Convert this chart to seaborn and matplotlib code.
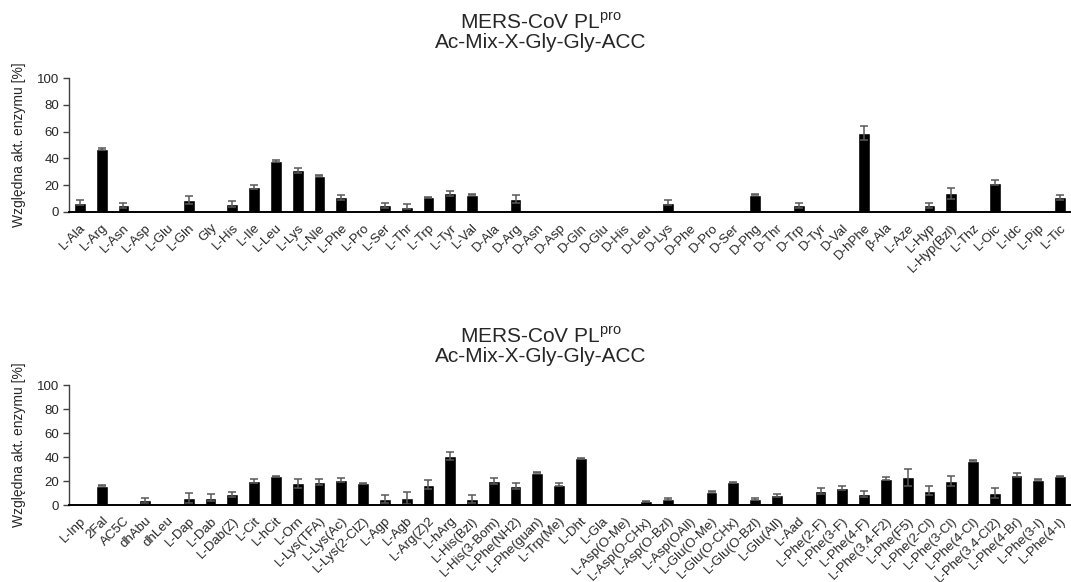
import numpy as np
import pandas as pd
import matplotlib
matplotlib.use("Agg")
import matplotlib.pyplot as plt
import seaborn as sns

# ---- data ----
cats_top = ["L-Ala", "L-Arg", "L-Asn", "L-Asp", "L-Glu", "L-Gln", "Gly", "L-His", "L-Ile",
            "L-Leu", "L-Lys", "L-Nle", "L-Phe", "L-Pro", "L-Ser", "L-Thr", "L-Trp", "L-Tyr",
            "L-Val", "D-Ala", "D-Arg", "D-Asn", "D-Asp", "D-Gln", "D-Glu", "D-His", "D-Leu",
            "D-Lys", "D-Phe", "D-Pro", "D-Ser", "D-Phg", "D-Thr", "D-Trp", "D-Tyr", "D-Val",
            "D-hPhe", "β-Ala", "L-Aze", "L-Hyp", "L-Hyp(Bzl)", "L-Thz", "L-Oic", "L-Idc",
            "L-Pip", "L-Tic"]
vals_top = [7, 47, 5, 0, 0, 9, 0, 6, 19,
            38, 31, 27, 11, 0, 5, 4, 11, 14,
            13, 0, 10, 0, 0, 0, 0, 0, 0,
            7, 0, 0, 0, 13, 0, 5, 0, 0,
            59, 0, 0, 5, 14, 0, 22, 0,
            0, 11]
err_top = [2, 0.7, 2, 0, 0, 3, 0, 2, 1.5,
           0.5, 2, 0.5, 2, 0, 2, 2, 0.5, 2,
           0.5, 0, 3, 0, 0, 0, 0, 0, 0,
           2, 0, 0, 0, 0.5, 0, 2, 0, 0,
           5, 0, 0, 2, 4, 0, 2, 0,
           0, 2]

cats_bot = ["L-Inp", "2Fal", "AC5C", "dhAbu", "dhLeu", "L-Dap", "L-Dab", "L-Dab(Z)", "L-Cit",
            "L-hCit", "L-Orn", "L-Lys(TFA)", "L-Lys(Ac)", "L-Lys(2-ClZ)", "L-Agp", "L-Agb",
            "L-Arg(Z)2", "L-hArg", "L-His(Bzl)", "L-His(3-Bom)", "L-Phe(NH2)", "L-Phe(guan)",
            "L-Trp(Me)", "L-Dht", "L-Gla", "L-Asp(O-Me)", "L-Asp(O-CHx)", "L-Asp(O-Bzl)",
            "L-Asp(OAll)", "L-Glu(O-Me)", "L-Glu(O-CHx)", "L-Glu(O-Bzl)", "L-Glu(All)", "L-Aad",
            "L-Phe(2-F)", "L-Phe(3-F)", "L-Phe(4-F)", "L-Phe(3,4-F2)", "L-Phe(F5)",
            "L-Phe(2-Cl)", "L-Phe(3-Cl)", "L-Phe(4-Cl)", "L-Phe(3,4-Cl2)", "L-Phe(4-Br)",
            "L-Phe(3-I)", "L-Phe(4-I)"]
vals_bot = [0, 16, 0, 4, 0, 6, 6, 9, 20,
            24, 18, 19, 21, 18, 5, 6,
            17, 41, 5, 20, 16, 27,
            17, 39, 0, 0, 3, 5,
            0, 11, 19, 5, 8, 0,
            12, 14, 9, 22, 23,
            12, 20, 37, 10, 25,
            21, 24]
err_bot = [0, 0.5, 0, 2, 0, 4, 3, 2, 1.5,
           0.5, 4, 2.5, 1.5, 0.5, 3.5, 5,
           4, 3.5, 3, 2.5, 2.5, 0.5,
           1.5, 0.5, 0, 0, 0.5, 0.5,
           0, 0.5, 0.5, 1, 1, 0,
           2.5, 1.5, 2.5, 1.5, 7,
           3.5, 4, 0.3, 4, 2,
           0.5, 0.5]

title1 = "MERS-CoV PL$^{\\mathrm{pro}}$"
title2 = "Ac-Mix-X-Gly-Gly-ACC"
ylab = "Względna akt. enzymu [%]"

sns.set_style("white")
plt.rcParams["font.family"] = ["Liberation Sans", "DejaVu Sans"]
plt.rcParams["mathtext.fontset"] = "custom"
plt.rcParams["mathtext.rm"] = "Liberation Sans"

fig = plt.figure(figsize=(10.71, 5.82), dpi=100)
ax_top = fig.add_axes([69 / 1071, 370 / 582, 1002 / 1071, 134 / 582])
ax_bot = fig.add_axes([69 / 1071, 77 / 582, 1002 / 1071, 120 / 582])


def draw(ax, cats, vals, errs):
    df = pd.DataFrame({"cat": cats, "val": vals, "err": errs})
    sns.barplot(data=df, x="cat", y="val", color="black", width=0.54,
                saturation=1, errorbar=None, ax=ax)
    pos = np.arange(len(df))
    m = df["val"].to_numpy() > 0
    ax.errorbar(pos[m], df["val"][m], yerr=df["err"][m], fmt="none",
                ecolor="#595959", elinewidth=1.1, capsize=3.2, capthick=1.1)
    ax.set_xlim(-0.5, len(df) - 0.5)
    ax.set_ylim(0, 100)
    ax.set_yticks([0, 20, 40, 60, 80, 100])
    ax.set_xlabel("")
    ax.set_ylabel(ylab, fontsize=10, color="#262626", labelpad=8)
    ax.set_xticks(pos)
    ax.set_xticklabels(cats, rotation=45, ha="right", rotation_mode="anchor",
                       fontsize=9.5, color="#262626")
    ax.tick_params(axis="x", length=0, pad=7)
    ax.tick_params(axis="y", length=4, width=1, color="#404040",
                   labelsize=9.5, labelcolor="#262626", pad=3, left=True)
    for s in ["top", "right"]:
        ax.spines[s].set_visible(False)
    ax.spines["left"].set_color("#404040")
    ax.spines["left"].set_linewidth(1)
    ax.spines["bottom"].set_color("black")
    ax.spines["bottom"].set_linewidth(1.4)


draw(ax_top, cats_top, vals_top, err_top)
draw(ax_bot, cats_bot, vals_bot, err_bot)

cx = 541 / 1071
for y1, y2 in [(29, 48), (343, 362)]:
    fig.text(cx, 1 - y1 / 582, title1, ha="center", va="baseline", fontsize=15, color="#262626")
    fig.text(cx, 1 - y2 / 582, title2, ha="center", va="baseline", fontsize=15, color="#262626")

fig.savefig("out.png", dpi=100)
